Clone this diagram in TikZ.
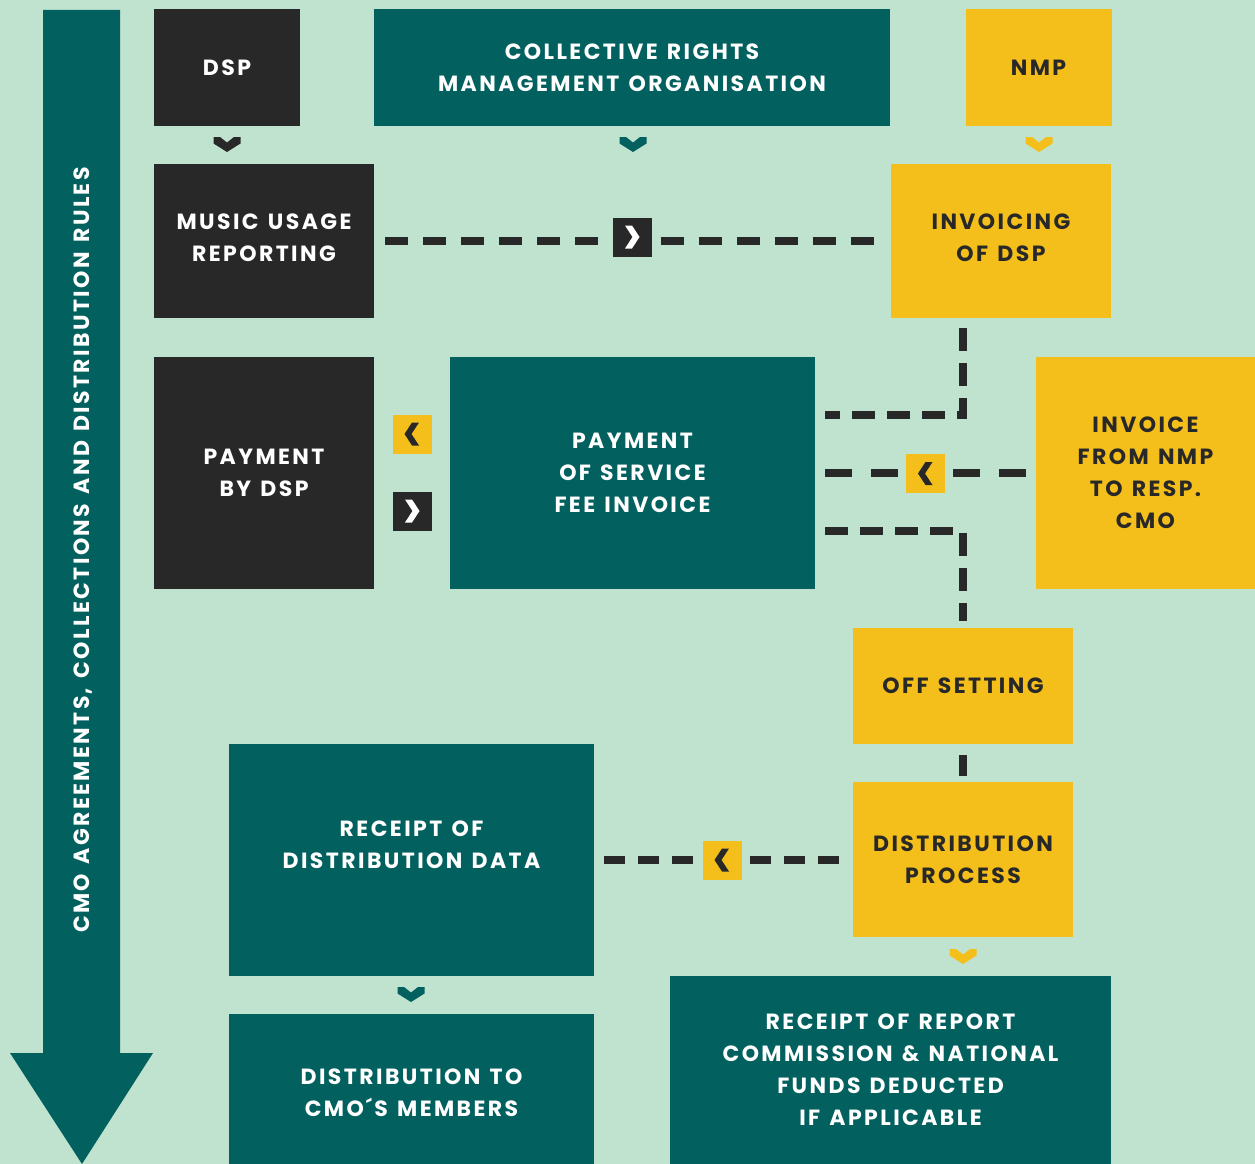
\documentclass[tikz,border=0pt]{standalone}
\usepackage{fontspec}
\setmainfont{Poppins}[LetterSpace=11, WordSpace=1.3]
\definecolor{cmoteal}{HTML}{02605F}
\definecolor{cmodark}{HTML}{282828}
\definecolor{cmoyellow}{HTML}{F4BF1A}
\definecolor{cmobg}{HTML}{C0E3D0}
\tikzset{
  box/.style={rectangle, inner sep=0pt, align=center, text=white,
    font=\fontsize{22}{32}\selectfont\bfseries},
  tealbox/.style={box, fill=cmoteal},
  darkbox/.style={box, fill=cmodark},
  yellowbox/.style={box, fill=cmoyellow, text=cmodark},
  sqbox/.style={rectangle, inner sep=0pt, minimum size=39pt},
  dashline/.style={draw=cmodark, line width=8pt, dash pattern=on 23pt off 15pt},
  chevdown/.pic={\fill (-13.5,-7.5) -- (-7,-7.5) -- (0,-2) -- (7,-7.5) -- (13.5,-7.5)
    -- (13.5,-1) -- (0,7.5) -- (-13.5,-1) -- cycle;},
  chevright/.pic={\fill (-7,-11.5) -- (0,-11.5) -- (7.5,0) -- (0,11.5) -- (-7,11.5) -- (0.5,0) -- cycle;},
  chevleft/.pic={\fill (7,-11.5) -- (0,-11.5) -- (-7.5,0) -- (0,11.5) -- (7,11.5) -- (-0.5,0) -- cycle;}
}
\begin{document}
\begin{tikzpicture}[x=1pt, y=-1pt]
    \fill[cmobg] (0,0) rectangle (1255,1164);
    \useasboundingbox (0,0) rectangle (1255,1164);

    % big arrow on the left
    \fill[cmoteal] (43,10) -- (120,10) -- (120,1053) -- (153,1053) -- (82,1164)
      -- (10,1053) -- (43,1053) -- cycle;
    \node[box, rotate=90] (rules) at (83,550) {CMO AGREEMENTS, COLLECTIONS AND DISTRIBUTION RULES};

    % top row
    \node[darkbox, minimum width=146pt, minimum height=116pt] (dsp) at (227,67.5) {DSP};
    \node[tealbox, minimum width=516pt, minimum height=116pt] (crmo) at (632,67.5)
      {COLLECTIVE RIGHTS\\MANAGEMENT ORGANISATION};
    \node[yellowbox, minimum width=146pt, minimum height=116pt] (nmp) at (1038.5,67.5) {NMP};
    \pic[fill=cmodark] at (227,144.5) {chevdown};
    \pic[fill=cmoteal] at (633,144.5) {chevdown};
    \pic[fill=cmoyellow] at (1039,144.5) {chevdown};

    % reporting and invoicing
    \node[darkbox, minimum width=220pt, minimum height=154pt, text depth=6pt] (usage) at (264,241)
      {MUSIC USAGE\\REPORTING};
    \node[yellowbox, minimum width=220pt, minimum height=154pt, text depth=6pt] (invoicing) at (1001,241)
      {INVOICING\\OF DSP};
    \node[sqbox, fill=cmodark] (sqa) at (632,237) {};
    \draw[dashline, shorten <=11pt, shorten >=8pt] (usage.east) -- (usage.east -| sqa.west);
    \draw[dashline, shorten <=9pt, shorten >=9pt] (invoicing.west -| sqa.east) -- (invoicing.west);
    \pic[fill=white] at (sqa) {chevright};

    % payments
    \node[darkbox, minimum width=220pt, minimum height=232pt] (paydsp) at (264,473)
      {PAYMENT\\BY DSP};
    \node[tealbox, minimum width=365pt, minimum height=232pt] (payfee) at (632.5,473)
      {PAYMENT\\OF SERVICE\\FEE INVOICE};
    \node[yellowbox, minimum width=219pt, minimum height=232pt] (invnmp) at (1145.5,473)
      {INVOICE\\FROM NMP\\TO RESP.\\CMO};
    \node[sqbox, fill=cmoyellow] (sqb) at (412,434) {};
    \pic[fill=cmodark] at (sqb) {chevleft};
    \node[sqbox, fill=cmodark] (sqc) at (412,511) {};
    \pic[fill=white] at (sqc) {chevright};

    % off setting and distribution
    \node[yellowbox, minimum width=220pt, minimum height=116pt] (offset) at (963,686)
      {OFF SETTING};
    \node[yellowbox, minimum width=220pt, minimum height=155pt] (distproc) at (963,859.5)
      {DISTRIBUTION\\PROCESS};
    \coordinate (bendtop) at (963,415);
    \coordinate (bendlow) at (963,531);
    \draw[dashline, shorten <=10pt, shorten >=10pt, dash pattern=on 23pt off 12pt]
      (invoicing.south -| bendtop) -- (bendtop) -- (bendtop -| payfee.east);
    \node[sqbox, fill=cmoyellow] (sqd) at (925.5,473.5) {};
    \draw[dashline, shorten <=10pt, shorten >=8pt, dash pattern=on 27pt off 19pt]
      (payfee.east) -- (payfee.east -| sqd.west);
    \draw[dashline, shorten <=8pt, shorten >=9pt, dash pattern=on 27pt off 19pt]
      (invnmp.west -| sqd.east) -- (invnmp.west);
    \pic[fill=cmodark] at (sqd) {chevleft};
    \draw[dashline, shorten <=10pt, shorten >=7pt, dash pattern=on 23pt off 12pt]
      (bendlow -| payfee.east) -- (bendlow) -- (offset.north);
    \draw[cmodark, line width=8pt, shorten <=11pt, shorten >=6pt] (offset.south) -- (distproc.north);

    % receipts
    \node[tealbox, minimum width=365pt, minimum height=232pt, text depth=30pt] (receipt) at (411.5,860)
      {RECEIPT OF\\DISTRIBUTION DATA};
    \node[sqbox, fill=cmoyellow] (sqe) at (722,860) {};
    \draw[dashline, shorten <=10pt, shorten >=8pt, dash pattern=on 21pt off 13pt]
      (receipt.east) -- (receipt.east -| sqe.west);
    \draw[dashline, shorten <=8pt, shorten >=13pt, dash pattern=on 21pt off 13pt]
      (distproc.west -| sqe.east) -- (distproc.west);
    \pic[fill=cmodark] at (sqe) {chevleft};
    \pic[fill=cmoteal] at (411,994.5) {chevdown};
    \pic[fill=cmoyellow] at (963,956.5) {chevdown};
    \node[tealbox, minimum width=365pt, minimum height=158pt] (members) at (411.5,1093)
      {DISTRIBUTION TO\\CMO´S MEMBERS};
    \node[tealbox, minimum width=441pt, minimum height=188pt] (report) at (890.5,1070)
      {RECEIPT OF REPORT\\COMMISSION \& NATIONAL\\FUNDS DEDUCTED\\IF APPLICABLE};
\end{tikzpicture}
\end{document}
